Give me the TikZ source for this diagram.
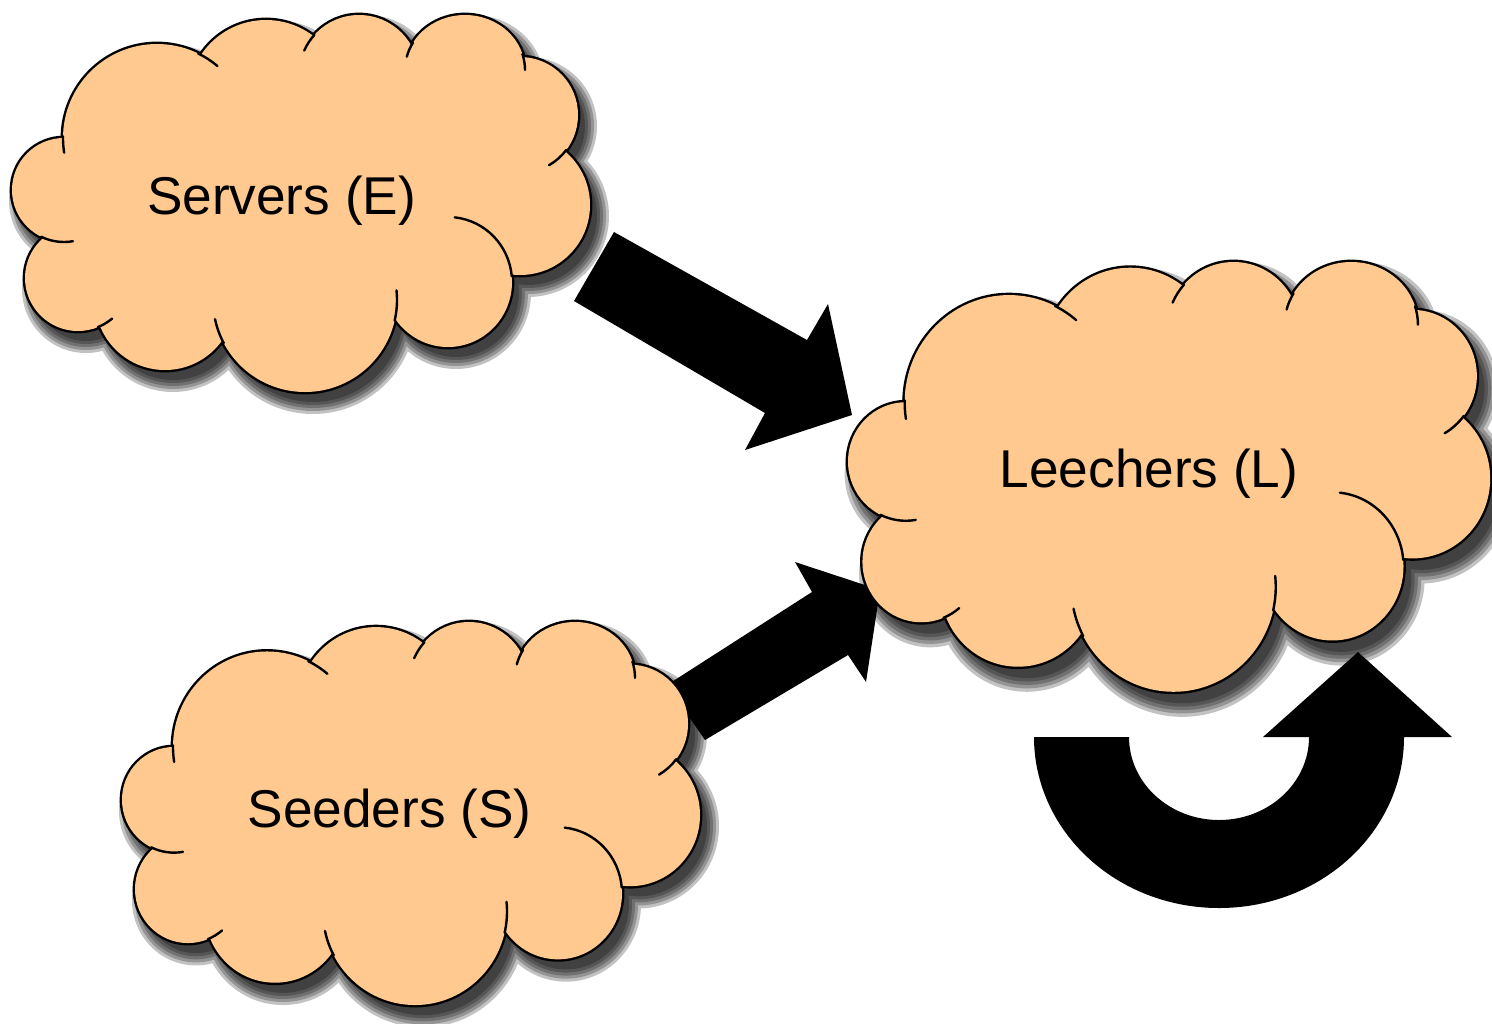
\documentclass[tikz,border=0pt]{standalone}
\usepackage{fontspec}
\setmainfont{Liberation Sans}
\definecolor{cloudfill}{RGB}{255,201,143}
\tikzset{
  cloudline/.style={line width=2.4pt, draw=black},
  tailline/.style={line width=1.2pt, draw=black, line cap=round},
  blockarrow/.style={fill=black},
  cloudtext/.style={font=\fontsize{26.6}{30}\selectfont, anchor=base, inner sep=0pt},
  cloudshadow/.style={fill=black, opacity=0.24},
}
\newcommand\cloudLobesPath[1]{%
 (64,190) circle[radius={52+#1}]
 (157,138) circle[radius={94+#1}]
 (266,98) circle[radius={78+#1}]
 (359,75) circle[radius={60+#1}]
 (465,70) ellipse[x radius={60+#1}, y radius={55+#1}]
 (520,115) circle[radius={58+#1}]
 (520,205) circle[radius={70+#1}]
 (448,282) ellipse[x radius={64+#1}, y radius={65+#1}]
 (305,300) circle[radius={92+#1}]
 (165,300) circle[radius={70+#1}]
 (78,278) circle[radius={53+#1}]
}
\newcommand\ctail[5]{\draw[tailline] (#1,#2) ++(#4:#3) arc[start angle=#4, end angle=#5, radius=#3];}
\newcommand\etail[6]{\draw[tailline] (#1,#2) ++({#3*cos(#5)},{#4*sin(#5)}) arc[start angle=#5, end angle=#6, x radius=#3, y radius=#4];}
\newcommand\mycloud{%
  \foreach \d in {11,8,5,2,-1} {\fill[cloudshadow, shift={(8,11)}] \cloudLobesPath{\d};}
  \draw[cloudline] \cloudLobesPath{0};
  \fill[cloudfill] \cloudLobesPath{0};
  \fill[cloudfill] (69,139) -- (205,60) -- (312,42) -- (407,50) -- (518,59) -- (559,152)
     -- (506,273) -- (391,314) -- (225,335) -- (105,323) -- (49,236) -- cycle;
  \ctail{157}{138}{94}{181}{171}
  \ctail{157}{138}{94}{-64}{-50}
  \ctail{359}{75}{60}{222}{204}
  \etail{465}{70}{60}{55}{-150}{-166}
  \etail{465}{70}{60}{55}{-17}{0}
  \ctail{520}{115}{58}{37}{60}
  \etail{448}{282}{64}{65}{-84}{-5}
  \ctail{305}{300}{92}{13}{-6}
  \ctail{305}{300}{92}{152}{168}
  \ctail{78}{278}{53}{68}{50}
  \ctail{64}{190}{52}{116}{80}
}
\begin{document}
\begin{tikzpicture}[x=0.5pt,y=-0.5pt]
\useasboundingbox (0,0) rectangle (1492,1023);
% block arrows
\fill[blockarrow] (574,301) -- (614,232) -- (807,340) -- (828,304) -- (852,415)
   -- (745,450) -- (765,413) -- cycle;
\fill[blockarrow] (667,685) -- (812,592) -- (795,562) -- (880,590) -- (866,682)
   -- (848,655) -- (705,740) -- cycle;
\fill[blockarrow] (1034,737) arc[start angle=180, end angle=0, x radius=185, y radius=171]
   -- (1452,737) -- (1358,652) -- (1263,737) -- (1309,737)
   arc[start angle=0, end angle=180, x radius=90, y radius=83] -- cycle;
% clouds
\begin{scope}
  \mycloud
\end{scope}
\begin{scope}[shift={(848,262)}, xscale=1.111, yscale=1.14, shift={(-12,-15)}]
  \mycloud
\end{scope}
\begin{scope}[shift={(122,622)}, xscale=1.0, yscale=1.016, shift={(-12,-15)}]
  \mycloud
\end{scope}
% labels
\node[cloudtext] (servers) at (281.5,214) {Servers (E)};
\node[cloudtext] (leechers) at (1149,487) {Leechers (L)};
\node[cloudtext] (seeders) at (389.5,827) {Seeders (S)};
\end{tikzpicture}
\end{document}
